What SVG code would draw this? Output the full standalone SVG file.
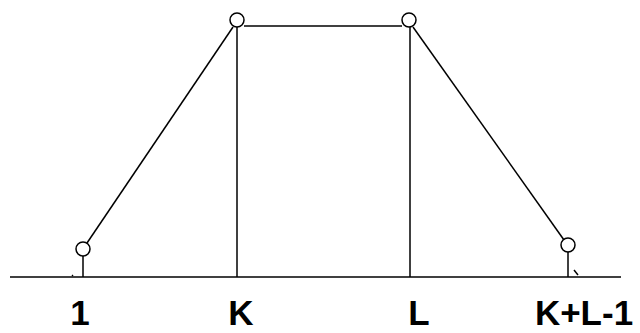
<svg xmlns="http://www.w3.org/2000/svg" width="640" height="333" viewBox="0 0 640 333">
<style>
.ln{stroke:#000;stroke-width:1.5;fill:none}
.nd{stroke:#000;stroke-width:1.5;fill:#fff}
.lb{font-family:"Liberation Sans",Arial,sans-serif;font-weight:bold;font-size:35px;fill:#000;text-anchor:middle}
</style>
<rect width="640" height="333" fill="#fff"/>
<g id="connectors">
<line class="ln" x1="10" y1="277" x2="621" y2="277"/>
<line class="ln" x1="87" y1="243" x2="233" y2="27"/>
<line class="ln" x1="413" y1="27" x2="564" y2="240"/>
<line class="ln" x1="244" y1="26" x2="402" y2="26"/>
<line class="ln" x1="237" y1="27" x2="237" y2="277"/>
<line class="ln" x1="410" y1="27" x2="410" y2="277"/>
<line class="ln" x1="83" y1="256" x2="83" y2="277"/>
<line class="ln" x1="568" y1="251" x2="568" y2="277"/>
<line class="ln" x1="72" y1="276" x2="73" y2="275"/>
<line class="ln" x1="574" y1="270" x2="578" y2="275"/>
</g>
<g id="n1"><circle class="nd" cx="83" cy="249" r="7"/><text class="lb" x="80" y="325">1</text></g>
<g id="nK"><circle class="nd" cx="237" cy="20" r="7"/><text class="lb" x="241" y="325">K</text></g>
<g id="nL"><circle class="nd" cx="409" cy="20" r="7"/><text class="lb" x="419" y="325">L</text></g>
<g id="nKL"><circle class="nd" cx="568" cy="245" r="7"/><text class="lb" x="584" y="325">K+L-1</text></g>
</svg>
